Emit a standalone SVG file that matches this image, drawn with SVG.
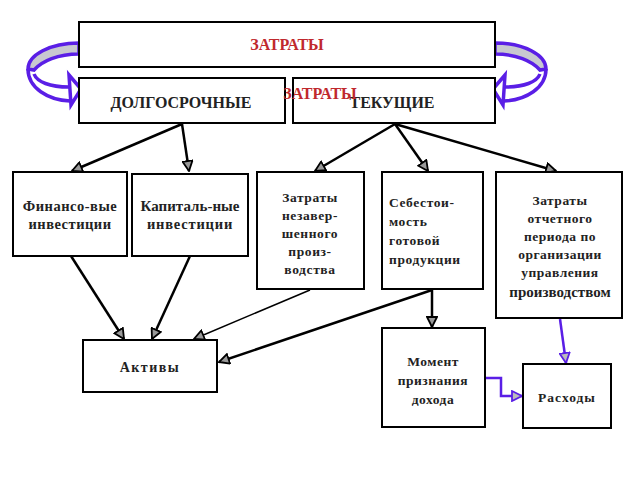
<svg xmlns="http://www.w3.org/2000/svg" width="640" height="480" viewBox="0 0 640 480">
<defs>
<style>
.box{fill:#fff;stroke:#000;stroke-width:2}
.t{font-family:"Liberation Serif","Times New Roman",serif;font-weight:bold;font-size:13.5px;fill:#222;text-anchor:middle}
.big{font-size:16px}
.red{fill:#c0282d;font-size:16px}
.ln{stroke:#000;stroke-width:2.5;fill:none}
.thin{stroke:#000;stroke-width:1.5;fill:none}
.pu{stroke:#5a1ee6;stroke-width:2.5;fill:none}
.band{stroke:#5a1ee6;stroke-width:3.5}
</style>
<marker id="ah" viewBox="0 0 12 12" refX="11" refY="6" markerWidth="12" markerHeight="12" markerUnits="userSpaceOnUse" orient="auto">
<path d="M1,1 L11,6 L1,11 Z" fill="#999" stroke="#000" stroke-width="1.8"/>
</marker>
<marker id="ahp" viewBox="0 0 12 12" refX="11" refY="6" markerWidth="12" markerHeight="12" markerUnits="userSpaceOnUse" orient="auto">
<path d="M1,1 L11,6 L1,11 Z" fill="#bbb" stroke="#5a1ee6" stroke-width="1.8"/>
</marker>
<g id="curve">
<path class="band" d="M79,43 C50,43 28,55 28,69 L34,70 C42,61 58,54 79,54 Z" fill="#c8c8d0"/>
<path class="band" fill="none" d="M28,69 C28,88 48,100 70,101"/>
<path class="band" fill="none" d="M34,74 C37,82 50,87 69,87"/>
<path class="band" fill="#fff" d="M69,75 L81,89 L71,105 Z"/>
</g>
</defs>

<g id="curveL"><use href="#curve"/></g>
<g id="curveR"><use href="#curve" transform="translate(574,0) scale(-1,1)"/></g>

<g id="connectors">
<line class="ln" x1="182" y1="124" x2="72" y2="171" marker-end="url(#ah)"/>
<line class="ln" x1="182" y1="124" x2="189" y2="171" marker-end="url(#ah)"/>
<line class="ln" x1="395" y1="124" x2="315" y2="171" marker-end="url(#ah)"/>
<line class="ln" x1="395" y1="124" x2="428" y2="171" marker-end="url(#ah)"/>
<line class="ln" x1="395" y1="124" x2="556" y2="171" marker-end="url(#ah)"/>
<line class="ln" x1="71" y1="256" x2="124" y2="339" marker-end="url(#ah)"/>
<line class="ln" x1="190" y1="256" x2="152" y2="339" marker-end="url(#ah)"/>
<line class="thin" x1="310" y1="290" x2="194" y2="339" marker-end="url(#ah)"/>
<line class="ln" x1="432" y1="290" x2="219" y2="362" marker-end="url(#ah)"/>
<line class="ln" x1="432" y1="290" x2="432" y2="327" marker-end="url(#ah)"/>
<line class="pu" x1="560" y1="319" x2="566" y2="363" marker-end="url(#ahp)"/>
<path class="pu" d="M486,378 L501,378 L501,396 L522,396" marker-end="url(#ahp)"/>
</g>

<g id="top"><rect class="box" x="79" y="22" width="416" height="45"/><text class="t red" x="287" y="50">ЗАТРАТЫ</text></g>
<g id="long"><rect class="box" x="79" y="78" width="206" height="45"/><text class="t big" x="181" y="108">ДОЛГОСРОЧНЫЕ</text></g>
<g id="cur"><rect class="box" x="293" y="78" width="202" height="45"/><text class="t big" x="392" y="108">ТЕКУЩИЕ</text></g>
<g id="label2"><text class="t red" x="320" y="99">ЗАТРАТЫ</text></g>

<g id="fin"><rect class="box" x="13" y="172" width="114" height="84"/><text class="t" x="70" y="211" style="font-size:14.5px" letter-spacing="0.5">Финансо-вые</text><text class="t" x="70" y="229" style="font-size:14.5px" letter-spacing="0.5">инвестиции</text></g>
<g id="cap"><rect class="box" x="132" y="174" width="116" height="82"/><text class="t" x="190" y="211" style="font-size:15px">Капиталь-ные</text><text class="t" x="190" y="229" style="font-size:14.5px" letter-spacing="0.8">инвестиции</text></g>
<g id="wip"><rect class="box" x="257" y="172" width="107" height="117"/>
<text class="t" x="310" y="202" letter-spacing="0.6">Затраты</text><text class="t" x="310" y="220" letter-spacing="0.6">незавер-</text><text class="t" x="310" y="238" letter-spacing="0.6">шенного</text><text class="t" x="310" y="256" letter-spacing="0.6">произ-</text><text class="t" x="310" y="274" letter-spacing="0.6">водства</text></g>
<g id="cost"><rect class="box" x="382" y="172" width="101" height="117"/>
<text class="t" x="389" y="207" style="text-anchor:start" letter-spacing="0.6">Себестои-</text><text class="t" x="389" y="226" style="text-anchor:start" letter-spacing="0.6">мость</text><text class="t" x="389" y="245" style="text-anchor:start" letter-spacing="0.6">готовой</text><text class="t" x="389" y="264" style="text-anchor:start" letter-spacing="0.6">продукции</text></g>
<g id="per"><rect class="box" x="496" y="172" width="126" height="146"/>
<text class="t" x="560" y="205" letter-spacing="0.5">Затраты</text><text class="t" x="560" y="223" letter-spacing="0.5">отчетного</text><text class="t" x="560" y="241" letter-spacing="0.5">периода по</text><text class="t" x="560" y="259" letter-spacing="0.5">организации</text><text class="t" x="560" y="277" letter-spacing="0.5">управления</text><text class="t" x="560" y="297" style="font-size:15px">производством</text></g>
<g id="act"><rect class="box" x="83" y="340" width="134" height="52"/><text class="t" x="150" y="372" style="font-size:14px" letter-spacing="1.5">Активы</text></g>
<g id="mom"><rect class="box" x="382" y="328" width="103" height="99"/><text class="t" x="433" y="366" letter-spacing="0.5">Момент</text><text class="t" x="433" y="385" letter-spacing="0.5">признания</text><text class="t" x="433" y="404" letter-spacing="0.5">дохода</text></g>
<g id="exp"><rect class="box" x="523" y="364" width="88" height="64"/><text class="t" x="567" y="402" letter-spacing="1">Расходы</text></g>
</svg>
